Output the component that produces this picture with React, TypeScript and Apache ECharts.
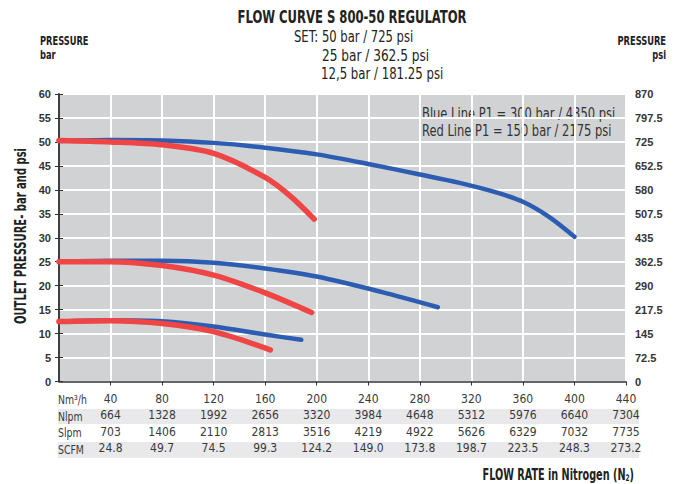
import React, { useEffect, useRef } from "react";
import * as echarts from "echarts";

// ---- data ----
const flowTicks = [40, 80, 120, 160, 200, 240, 280, 320, 360, 400, 440];
const nlpmRow = ["664", "1328", "1992", "2656", "3320", "3984", "4648", "5312", "5976", "6640", "7304"];
const slpmRow = ["703", "1406", "2110", "2813", "3516", "4219", "4922", "5626", "6329", "7032", "7735"];
const scfmRow = ["24.8", "49.7", "74.5", "99.3", "124.2", "149.0", "173.8", "198.7", "223.5", "248.3", "273.2"];
const psiTicks = ["0", "72.5", "145", "217.5", "290", "362.5", "435", "507.5", "580", "652.5", "725", "797.5", "870"];

const blue50Flow = [0, 40, 80, 120, 160, 200, 240, 280, 310, 340, 360, 380, 400];
const blue50Bar = [50.2, 50.4, 50.3, 49.8, 48.8, 47.4, 45.4, 43.2, 41.5, 39.4, 37.5, 34.4, 30.2];
const red50Flow = [0, 40, 80, 120, 160, 180, 198];
const red50Bar = [50.3, 50.0, 49.4, 47.6, 42.6, 38.6, 33.9];
const blue25Flow = [0, 40, 80, 120, 160, 200, 250, 294];
const blue25Bar = [25.0, 25.2, 25.2, 24.8, 23.6, 21.9, 18.7, 15.5];
const red25Flow = [0, 40, 80, 120, 160, 196];
const red25Bar = [25.0, 25.0, 24.2, 22.2, 18.5, 14.4];
const blue12Flow = [0, 40, 80, 120, 160, 188];
const blue12Bar = [12.5, 12.8, 12.6, 11.5, 9.8, 8.7];
const red12Flow = [0, 40, 80, 120, 164];
const red12Bar = [12.5, 12.7, 12.1, 10.4, 6.6];

const NARROW = "'Liberation Sans Narrow', 'DejaVu Sans Condensed', 'Roboto', sans-serif";
const ARIAL = "'Liberation Sans', Arial, sans-serif";
const BLUE = "#2c5db2";
const RED = "#ef4545";

const zip = (xs: number[], ys: number[]) => xs.map((x, i) => [x, ys[i]]);

const tableFormatter = (row: string[]) => (v: number) => {
  const i = flowTicks.indexOf(Math.round(v));
  return i >= 0 ? row[i] : "";
};

const txt = (
  text: string,
  x: number,
  y: number,
  opts: { size: number; bold?: boolean; align?: string; scaleX?: number; fill?: string; rotation?: number; rich?: any }
) => ({
  type: "text",
  x,
  y,
  scaleX: opts.scaleX ?? 1,
  rotation: opts.rotation ?? 0,
  style: {
    text,
    fontFamily: NARROW,
    fontWeight: opts.bold ? "bold" : "normal",
    fontSize: opts.size,
    fill: opts.fill ?? "#222",
    align: opts.align ?? "left",
    verticalAlign: "middle",
    rich: opts.rich,
  },
});

export default function App() {
  const ref = useRef<HTMLDivElement>(null);
  useEffect(() => {
    document.body.style.margin = "0";
    if (!ref.current) return;
    const chart = echarts.init(ref.current, undefined, { renderer: "svg" });
    const tableAxis = (offset: number, row: string[] | null) => ({
      type: "value",
      position: "bottom",
      offset,
      min: 0,
      max: 440,
      interval: 40,
      axisLine: { show: offset === 0, onZero: false, lineStyle: { color: "#333", width: 1.5 } },
      axisTick: { show: offset === 0, length: 4, lineStyle: { color: "#333" } },
      splitLine: { show: offset === 0, lineStyle: { color: "#ffffff", width: 2 } },
      axisLabel: {
        show: true,
        margin: 11,
        showMinLabel: false,
        fontFamily: NARROW,
        fontSize: 12,
        color: "#3a3a3a",
        formatter: row ? tableFormatter(row) : (v: number) => (v === 0 ? "" : String(v)),
      },
    });
    const line = (name: string, data: number[][], color: string) => ({
      name,
      type: "line",
      data,
      smooth: 0.3,
      symbol: "none",
      lineStyle: { color, width: color === RED ? 5.5 : 4.5, cap: "round", join: "round" },
      z: color === RED ? 4 : 3,
    });
    chart.setOption({
      animation: false,
      backgroundColor: "#ffffff",
      grid: {
        left: 59,
        top: 94,
        width: 567,
        height: 287.5,
        show: true,
        backgroundColor: "#d1d2d4",
        borderWidth: 0,
      },
      xAxis: [tableAxis(0, null), tableAxis(16.5, nlpmRow), tableAxis(33, slpmRow), tableAxis(49.5, scfmRow)],
      yAxis: [
        {
          type: "value",
          min: 0,
          max: 60,
          interval: 5,
          axisLine: { show: true, lineStyle: { color: "#333", width: 1.5 } },
          axisTick: { show: true, length: 4, lineStyle: { color: "#333" } },
          splitLine: { show: true, lineStyle: { color: "#ffffff", width: 2 } },
          axisLabel: { fontFamily: ARIAL, fontWeight: "bold", fontSize: 11, color: "#333", margin: 8 },
        },
        {
          type: "value",
          position: "right",
          min: 0,
          max: 870,
          interval: 72.5,
          axisLine: { show: true, lineStyle: { color: "#333", width: 1.5 } },
          axisTick: { show: true, length: 4, lineStyle: { color: "#333" } },
          splitLine: { show: false },
          axisLabel: {
            fontFamily: ARIAL,
            fontWeight: "bold",
            fontSize: 11,
            color: "#333",
            margin: 9,
            formatter: (v: number) => psiTicks[Math.round(v / 72.5)] ?? "",
          },
        },
      ],
      series: [
        line("Blue 50", zip(blue50Flow, blue50Bar), BLUE),
        line("Blue 25", zip(blue25Flow, blue25Bar), BLUE),
        line("Blue 12.5", zip(blue12Flow, blue12Bar), BLUE),
        line("Red 50", zip(red50Flow, red50Bar), RED),
        line("Red 25", zip(red25Flow, red25Bar), RED),
        line("Red 12.5", zip(red12Flow, red12Bar), RED),
      ],
      graphic: [
        { type: "rect", z: -1, shape: { x: 58, y: 409, width: 581, height: 15 }, style: { fill: "#e9e9eb" } },
        { type: "rect", z: -1, shape: { x: 58, y: 442, width: 581, height: 16 }, style: { fill: "#e9e9eb" } },
        txt("FLOW CURVE S 800-50 REGULATOR", 352, 17, { size: 17, bold: true, align: "center", scaleX: 0.76 }),
        txt("SET: 50 bar / 725 psi", 294, 37, { size: 15, scaleX: 0.86 }),
        txt("25 bar / 362.5 psi", 322, 56, { size: 15, scaleX: 0.9 }),
        txt("12,5 bar / 181.25 psi", 321, 74, { size: 15, scaleX: 0.87 }),
        txt("PRESSURE", 40, 41, { size: 12, bold: true, scaleX: 0.77 }),
        txt("bar", 40, 55, { size: 12, bold: true, scaleX: 0.77 }),
        txt("PRESSURE", 666, 41, { size: 12, bold: true, align: "right", scaleX: 0.77 }),
        txt("psi", 666, 55, { size: 12, bold: true, align: "right", scaleX: 0.77 }),
        txt("Blue Line P1 = 300 bar / 4350 psi", 422, 113, { size: 16, scaleX: 0.8, fill: "#333" }),
        txt("Red Line P1 = 150 bar / 2175 psi", 422, 130, { size: 16, scaleX: 0.8, fill: "#333" }),
        txt("OUTLET PRESSURE- bar and psi", 21, 236, { size: 15, bold: true, align: "center", scaleX: 0.74, rotation: Math.PI / 2 }),
        txt("Nm³/h", 58, 400, { size: 13, scaleX: 0.8, fill: "#3a3a3a" }),
        txt("Nlpm", 58, 416.5, { size: 13, scaleX: 0.8, fill: "#3a3a3a" }),
        txt("Slpm", 58, 433, { size: 13, scaleX: 0.8, fill: "#3a3a3a" }),
        txt("SCFM", 58, 449.5, { size: 13, scaleX: 0.8, fill: "#3a3a3a" }),
        txt("FLOW RATE in Nitrogen (N{sub|2})", 634, 475, {
          size: 15,
          bold: true,
          align: "right",
          scaleX: 0.72,
          rich: { sub: { fontFamily: NARROW, fontWeight: "bold", fontSize: 9, fill: "#222", padding: [7, 0, 0, 0] } },
        }),
      ],
    });
    return () => chart.dispose();
  }, []);
  return <div ref={ref} style={{ width: 680, height: 484, position: "absolute", left: 0, top: 0 }} />;
}
